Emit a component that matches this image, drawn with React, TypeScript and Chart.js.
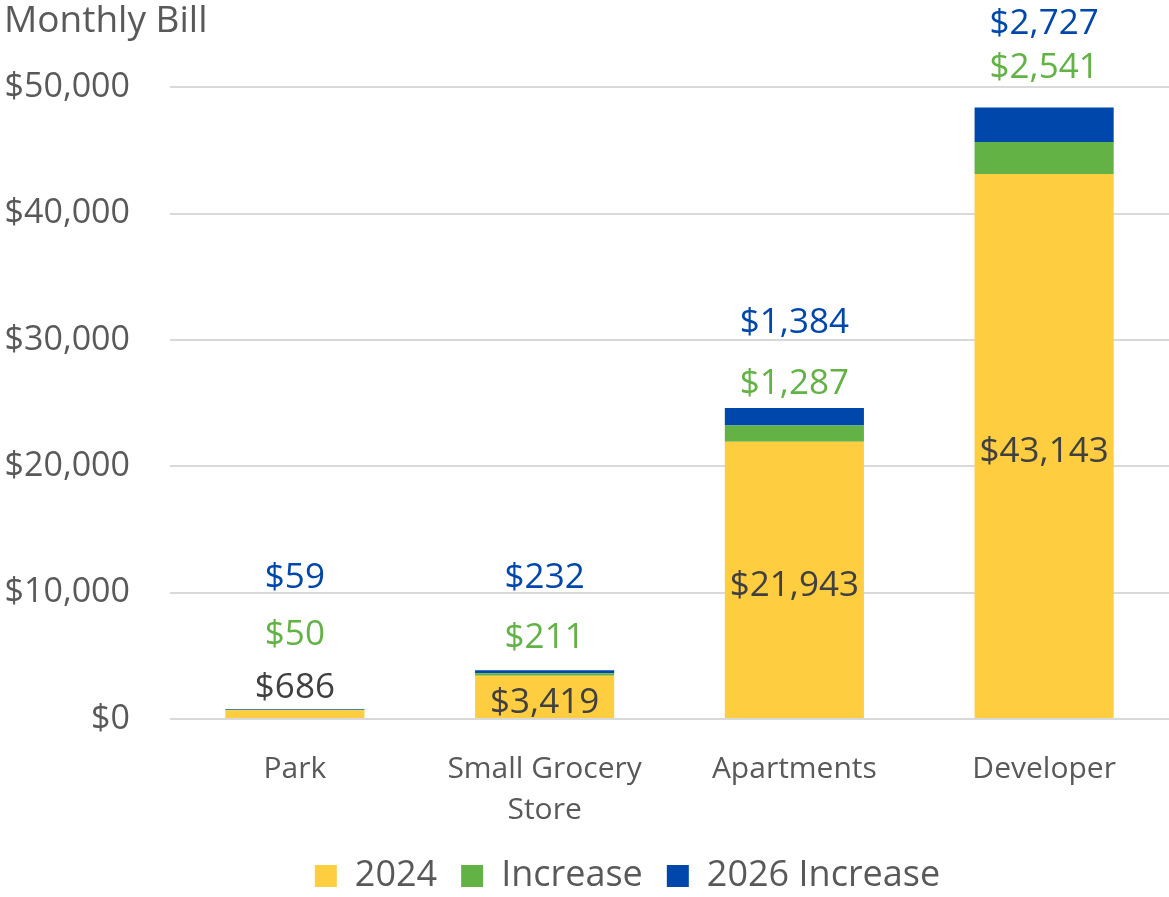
import React, { useEffect, useRef } from 'react';
import { Chart, registerables } from 'chart.js';

Chart.register(...registerables);

const categories: (string | string[])[] = ['Park', ['Small Grocery', 'Store'], 'Apartments', 'Developer'];
const seriesNames = ['2024', 'Increase', '2026 Increase'];
const bill2024 = [686, 3419, 21943, 43143];
const increase = [50, 211, 1287, 2541];
const increase2026 = [59, 232, 1384, 2727];
const yTicks = [0, 10000, 20000, 30000, 40000, 50000];

const FONT = "'Open Sans', 'Noto Sans', sans-serif";
const GRAY = '#595959';
const seriesColors = ['#FFCD40', '#62B246', '#0047AB'];
const labelColors = ['#404040', '#62B246', '#0047AB'];

const money = (v: number) => '$' + v.toLocaleString('en-US');

const stackLabels = {
  id: 'stackLabels',
  afterDatasetsDraw(chart: any, _args: any, opts: any) {
    const ctx = chart.ctx;
    const metas = [0, 1, 2].map((i) => chart.getDatasetMeta(i));
    const series = [bill2024, increase, increase2026];
    ctx.save();
    ctx.font = `${opts.size}px ${FONT}`;
    ctx.textAlign = 'center';
    ctx.textBaseline = 'middle';
    metas[0].data.forEach((bar: any, j: number) => {
      const p = bar.getProps(['x', 'y', 'base'], true);
      const top = metas[2].data[j].getProps(['y'], true).y;
      const y0 = opts.baseAbove[j] ? p.y - opts.baseLift : (p.y + p.base) / 2 + opts.insideDrop;
      ctx.fillStyle = labelColors[0];
      ctx.fillText(money(series[0][j]), p.x, y0);
      ctx.fillStyle = labelColors[1];
      ctx.fillText(money(series[1][j]), p.x, top - opts.increaseLift[j]);
      ctx.fillStyle = labelColors[2];
      ctx.fillText(money(series[2][j]), p.x, top - opts.lift2026[j]);
    });
    ctx.restore();
  },
};

const legendShift = {
  id: 'legendShift',
  afterLayout(chart: any, _args: any, opts: any) {
    if (chart.legend) {
      chart.legend.left += opts.dx * 2;
    }
  },
};

export default function App() {
  const ref = useRef<HTMLCanvasElement | null>(null);

  useEffect(() => {
    document.body.style.margin = '0';
    const canvas = ref.current;
    if (!canvas) return;
    const chart = new Chart(canvas, {
      type: 'bar',
      data: {
        labels: categories as any,
        datasets: [bill2024, increase, increase2026].map((d, i) => ({
          label: seriesNames[i],
          data: d,
          backgroundColor: seriesColors[i],
          borderWidth: 0,
          barPercentage: 0.557,
          categoryPercentage: 1,
        })),
      },
      options: {
        responsive: false,
        animation: false,
        devicePixelRatio: 1,
        layout: { padding: { left: 4, right: 0, top: 0, bottom: -7 } },
        scales: {
          x: {
            stacked: true,
            grid: { display: false },
            border: { display: false },
            ticks: {
              color: GRAY,
              font: { family: FONT, size: 30, lineHeight: 1.37 },
              padding: 22,
              maxRotation: 0,
              autoSkip: false,
            },
            afterFit: (s: any) => {
              s.height = 115;
            },
          },
          y: {
            stacked: true,
            min: 0,
            max: 50000,
            border: { display: false },
            grid: { color: '#D9D9D9', lineWidth: 2, drawTicks: false },
            ticks: {
              color: GRAY,
              font: { family: FONT, size: 34 },
              padding: 40,
              callback: (v: any) => money(Number(v)),
            },
            afterBuildTicks: (s: any) => {
              s.ticks = yTicks.map((v) => ({ value: v }));
            },
            afterFit: (s: any) => {
              s.width = 166;
            },
          },
        },
        plugins: {
          title: {
            display: true,
            text: 'Monthly Bill',
            align: 'start',
            color: GRAY,
            font: { family: FONT, size: 37, weight: 'normal' },
            padding: { top: -1, bottom: 44 },
          },
          legend: {
            position: 'bottom',
            labels: {
              color: GRAY,
              font: { family: FONT, size: 36 },
              boxWidth: 22,
              boxHeight: 22,
              padding: 24,
            },
          },
          tooltip: { enabled: false },
          stackLabels: {
            size: 35,
            baseAbove: [true, false, false, false],
            baseLift: 22,
            insideDrop: 6,
            increaseLift: [74, 32, 24, 39],
            lift2026: [131, 92, 85, 83],
          },
          legendShift: { dx: 41 },
        } as any,
      },
      plugins: [stackLabels, legendShift],
    });
    return () => chart.destroy();
  }, []);

  return (
    <div style={{ position: 'fixed', left: 0, top: 0, width: 1169, height: 897, background: '#fff' }}>
      <canvas ref={ref} width={1169} height={897} />
    </div>
  );
}
